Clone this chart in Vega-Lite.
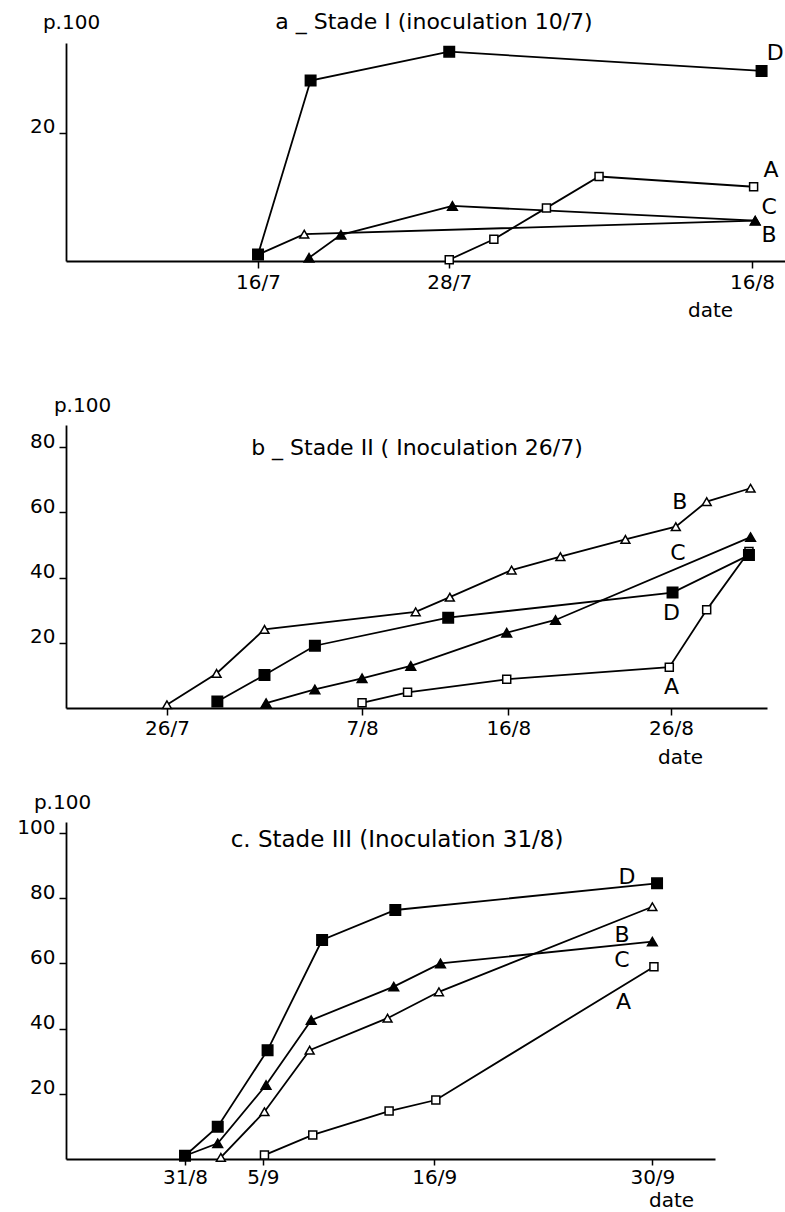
{
  "$schema": "https://vega.github.io/schema/vega-lite/v6.json",
  "padding": {"left": 16, "top": 11, "right": 0, "bottom": 2},
  "background": "white",
  "bounds": "flush",
  "spacing": 164,
  "datasets": {
    "a": [
      {"s": "A", "day": 28, "v": 0.2},
      {"s": "A", "day": 30.8, "v": 3.4},
      {"s": "A", "day": 34.1, "v": 8.3},
      {"s": "A", "day": 37.4, "v": 13.2},
      {"s": "A", "day": 47.1, "v": 11.6},
      {"s": "B", "day": 16, "v": 1.0},
      {"s": "B", "day": 18.9, "v": 4.2},
      {"s": "B", "day": 47.2, "v": 6.3},
      {"s": "C", "day": 19.2, "v": 0.5},
      {"s": "C", "day": 21.2, "v": 4.1},
      {"s": "C", "day": 28.2, "v": 8.6},
      {"s": "C", "day": 47.2, "v": 6.3},
      {"s": "D", "day": 16, "v": 1.0},
      {"s": "D", "day": 19.3, "v": 28.2},
      {"s": "D", "day": 28, "v": 32.7},
      {"s": "D", "day": 47.6, "v": 29.7}
    ],
    "b": [
      {"s": "A", "day": 38, "v": 1.6},
      {"s": "A", "day": 40.8, "v": 4.8},
      {"s": "A", "day": 46.9, "v": 8.8},
      {"s": "A", "day": 56.9, "v": 12.5},
      {"s": "A", "day": 59.2, "v": 30.1},
      {"s": "A", "day": 61.8, "v": 48.0},
      {"s": "B", "day": 26, "v": 1.0},
      {"s": "B", "day": 29.05, "v": 10.6},
      {"s": "B", "day": 32, "v": 24.1},
      {"s": "B", "day": 41.3, "v": 29.5},
      {"s": "B", "day": 43.4, "v": 34.0},
      {"s": "B", "day": 47.2, "v": 42.3},
      {"s": "B", "day": 50.2, "v": 46.4},
      {"s": "B", "day": 54.2, "v": 51.7},
      {"s": "B", "day": 57.3, "v": 55.6},
      {"s": "B", "day": 59.2, "v": 63.3},
      {"s": "B", "day": 61.9, "v": 67.4},
      {"s": "C", "day": 32.1, "v": 1.5},
      {"s": "C", "day": 35.1, "v": 5.7},
      {"s": "C", "day": 38, "v": 9.1},
      {"s": "C", "day": 41, "v": 12.9},
      {"s": "C", "day": 46.9, "v": 23.1},
      {"s": "C", "day": 49.9, "v": 27.0},
      {"s": "C", "day": 61.9, "v": 52.4},
      {"s": "D", "day": 29.1, "v": 2.0},
      {"s": "D", "day": 32, "v": 10.1},
      {"s": "D", "day": 35.1, "v": 19.1},
      {"s": "D", "day": 43.3, "v": 27.7},
      {"s": "D", "day": 57.1, "v": 35.4},
      {"s": "D", "day": 61.8, "v": 46.9}
    ],
    "c": [
      {"s": "A", "day": 5.1, "v": 1.2},
      {"s": "A", "day": 8.2, "v": 7.4},
      {"s": "A", "day": 13.1, "v": 14.7},
      {"s": "A", "day": 16.1, "v": 18.1},
      {"s": "A", "day": 30.1, "v": 59.0},
      {"s": "B", "day": 2.3, "v": 0.5},
      {"s": "B", "day": 5.1, "v": 14.5},
      {"s": "B", "day": 8.0, "v": 33.4},
      {"s": "B", "day": 13.0, "v": 43.2},
      {"s": "B", "day": 16.3, "v": 51.3},
      {"s": "B", "day": 30, "v": 77.4},
      {"s": "C", "day": 0, "v": 1.0},
      {"s": "C", "day": 2.1, "v": 4.8},
      {"s": "C", "day": 5.2, "v": 22.7},
      {"s": "C", "day": 8.1, "v": 42.6},
      {"s": "C", "day": 13.4, "v": 52.9},
      {"s": "C", "day": 16.4, "v": 60.0},
      {"s": "C", "day": 30, "v": 66.7},
      {"s": "D", "day": 0, "v": 1.0},
      {"s": "D", "day": 2.1, "v": 9.9},
      {"s": "D", "day": 5.3, "v": 33.4},
      {"s": "D", "day": 8.8, "v": 67.2},
      {"s": "D", "day": 13.5, "v": 76.4},
      {"s": "D", "day": 30.3, "v": 84.6}
    ],
    "la": [
      {"s": "D", "day": 48.45, "v": 32.5},
      {"s": "A", "day": 48.19, "v": 14.2},
      {"s": "C", "day": 48.07, "v": 8.4},
      {"s": "B", "day": 48.07, "v": 4.1}
    ],
    "lb": [
      {"s": "B", "day": 57.55, "v": 63.3},
      {"s": "C", "day": 57.43, "v": 47.5},
      {"s": "D", "day": 57.04, "v": 29.1},
      {"s": "A", "day": 57.04, "v": 6.5}
    ],
    "lc": [
      {"s": "D", "day": 28.37, "v": 86.6},
      {"s": "B", "day": 28.05, "v": 68.7},
      {"s": "C", "day": 28.05, "v": 61.0},
      {"s": "A", "day": 28.15, "v": 48.3}
    ],
    "ta": [{"t": "a _ Stade I (inoculation 10/7)", "day": 27.04, "v": 37.3}],
    "tb": [{"t": "b _ Stade II ( Inoculation 26/7)", "day": 41.38, "v": 79.8}],
    "tc": [{"t": "c. Stade III (Inoculation 31/8)", "day": 13.61, "v": 97.9}]
  },
  "vconcat": [
    {
      "width": 719,
      "height": 218,
      "layer": [
        {
          "data": {"name": "a"},
          "mark": {"type": "line", "color": "black", "strokeWidth": 1.8},
          "encoding": {
            "x": {"field": "day", "type": "quantitative", "scale": {"domain": [3.95, 49.07], "nice": false, "zero": false},
              "axis": {"values": [16, 28, 47], "labelExpr": "datum.value == 16 ? '16/7' : datum.value == 28 ? '28/7' : '16/8'",
                "title": "date", "titleX": 644, "titleY": 49, "titleAlign": "center", "titleBaseline": "middle",
                "tickSize": 7, "labelPadding": 4, "labelBaseline": "top"}},
            "y": {"field": "v", "type": "quantitative", "scale": {"domain": [0, 34.06], "nice": false},
              "axis": {"values": [20], "title": "p.100", "titleAngle": 0, "titleX": 5, "titleY": -21, "titleAlign": "center", "titleBaseline": "middle",
                "tickSize": 7, "labelPadding": 4, "labelBaseline": "alphabetic"}},
            "detail": {"field": "s"}
          }
        },
        {
          "data": {"name": "a"},
          "mark": {"type": "point", "filled": true, "stroke": "black", "strokeWidth": 1.5, "opacity": 1},
          "encoding": {
            "x": {"field": "day", "type": "quantitative"},
            "y": {"field": "v", "type": "quantitative"},
            "shape": {"field": "s", "scale": {"domain": ["A", "B", "C", "D"], "range": ["square", "triangle-up", "triangle-up", "square"]}, "legend": null},
            "fill": {"field": "s", "scale": {"domain": ["A", "B", "C", "D"], "range": ["white", "white", "black", "black"]}, "legend": null},
            "size": {"field": "s", "scale": {"domain": ["A", "B", "C", "D"], "range": [64, 110, 110, 72]}, "legend": null}
          }
        },
        {
          "data": {"name": "la"},
          "mark": {"type": "text", "fontSize": 22, "align": "center", "baseline": "middle", "color": "black"},
          "encoding": {
            "x": {"field": "day", "type": "quantitative"},
            "y": {"field": "v", "type": "quantitative"},
            "text": {"field": "s"}
          }
        },
        {
          "data": {"name": "ta"},
          "mark": {"type": "text", "fontSize": 22, "align": "center", "baseline": "middle", "color": "black"},
          "encoding": {
            "x": {"field": "day", "type": "quantitative"},
            "y": {"field": "v", "type": "quantitative"},
            "text": {"field": "t"}
          }
        }
      ]
    },
    {
      "bounds": "flush",
      "spacing": 114,
      "vconcat": [
        {
          "width": 701,
          "height": 283,
          "layer": [
            {
              "data": {"name": "b"},
              "mark": {"type": "line", "color": "black", "strokeWidth": 1.8},
              "encoding": {
                "x": {"field": "day", "type": "quantitative", "scale": {"domain": [19.79, 62.91], "nice": false, "zero": false},
                  "axis": {"values": [26, 38, 47, 57], "labelExpr": "datum.value == 26 ? '26/7' : datum.value == 38 ? '7/8' : datum.value == 47 ? '16/8' : '26/8'",
                    "title": "date", "titleX": 614, "titleY": 49, "titleAlign": "center", "titleBaseline": "middle",
                    "tickSize": 7, "labelPadding": 3, "labelBaseline": "top"}},
                "y": {"field": "v", "type": "quantitative", "scale": {"domain": [0, 86.8], "nice": false},
                  "axis": {"values": [20, 40, 60, 80], "title": "p.100", "titleAngle": 0, "titleX": 16, "titleY": -20, "titleAlign": "center", "titleBaseline": "middle",
                    "tickSize": 7, "labelPadding": 4, "labelBaseline": "alphabetic"}},
                "detail": {"field": "s"}
              }
            },
            {
              "data": {"name": "b"},
              "mark": {"type": "point", "filled": true, "stroke": "black", "strokeWidth": 1.5, "opacity": 1},
              "encoding": {
                "x": {"field": "day", "type": "quantitative"},
                "y": {"field": "v", "type": "quantitative"},
                "shape": {"field": "s", "scale": {"domain": ["A", "B", "C", "D"], "range": ["square", "triangle-up", "triangle-up", "square"]}, "legend": null},
                "fill": {"field": "s", "scale": {"domain": ["A", "B", "C", "D"], "range": ["white", "white", "black", "black"]}, "legend": null},
                "size": {"field": "s", "scale": {"domain": ["A", "B", "C", "D"], "range": [64, 110, 110, 72]}, "legend": null}
              }
            },
            {
              "data": {"name": "lb"},
              "mark": {"type": "text", "fontSize": 22, "align": "center", "baseline": "middle", "color": "black"},
              "encoding": {
                "x": {"field": "day", "type": "quantitative"},
                "y": {"field": "v", "type": "quantitative"},
                "text": {"field": "s"}
              }
            },
            {
              "data": {"name": "tb"},
              "mark": {"type": "text", "fontSize": 22, "align": "center", "baseline": "middle", "color": "black"},
              "encoding": {
                "x": {"field": "day", "type": "quantitative"},
                "y": {"field": "v", "type": "quantitative"},
                "text": {"field": "t"}
              }
            }
          ]
        },
        {
          "width": 649,
          "height": 337,
          "layer": [
            {
              "data": {"name": "c"},
              "mark": {"type": "line", "color": "black", "strokeWidth": 1.8},
              "encoding": {
                "x": {"field": "day", "type": "quantitative", "scale": {"domain": [-7.64, 34.02], "nice": false, "zero": false},
                  "axis": {"values": [0, 5, 16, 30], "labelExpr": "datum.value == 0 ? '31/8' : datum.value == 5 ? '5/9' : datum.value == 16 ? '16/9' : '30/9'",
                    "title": "date", "titleX": 605, "titleY": 41, "titleAlign": "center", "titleBaseline": "middle",
                    "tickSize": 6, "labelPadding": 2, "labelBaseline": "top"}},
                "y": {"field": "v", "type": "quantitative", "scale": {"domain": [0, 103.4], "nice": false},
                  "axis": {"values": [20, 40, 60, 80, 100], "title": "p.100", "titleAngle": 0, "titleX": -4, "titleY": -20, "titleAlign": "center", "titleBaseline": "middle",
                    "tickSize": 7, "labelPadding": 4, "labelBaseline": "alphabetic"}},
                "detail": {"field": "s"}
              }
            },
            {
              "data": {"name": "c"},
              "mark": {"type": "point", "filled": true, "stroke": "black", "strokeWidth": 1.5, "opacity": 1},
              "encoding": {
                "x": {"field": "day", "type": "quantitative"},
                "y": {"field": "v", "type": "quantitative"},
                "shape": {"field": "s", "scale": {"domain": ["A", "B", "C", "D"], "range": ["square", "triangle-up", "triangle-up", "square"]}, "legend": null},
                "fill": {"field": "s", "scale": {"domain": ["A", "B", "C", "D"], "range": ["white", "white", "black", "black"]}, "legend": null},
                "size": {"field": "s", "scale": {"domain": ["A", "B", "C", "D"], "range": [64, 110, 110, 72]}, "legend": null}
              }
            },
            {
              "data": {"name": "lc"},
              "mark": {"type": "text", "fontSize": 22, "align": "center", "baseline": "middle", "color": "black"},
              "encoding": {
                "x": {"field": "day", "type": "quantitative"},
                "y": {"field": "v", "type": "quantitative"},
                "text": {"field": "s"}
              }
            },
            {
              "data": {"name": "tc"},
              "mark": {"type": "text", "fontSize": 23, "align": "center", "baseline": "middle", "color": "black"},
              "encoding": {
                "x": {"field": "day", "type": "quantitative"},
                "y": {"field": "v", "type": "quantitative"},
                "text": {"field": "t"}
              }
            }
          ]
        }
      ]
    }
  ],
  "config": {
    "font": "DejaVu Sans",
    "view": {"stroke": null},
    "text": {"font": "DejaVu Sans"},
    "axis": {
      "domainColor": "black", "domainWidth": 1.8, "tickColor": "black", "tickWidth": 1.5,
      "labelColor": "black", "labelFont": "DejaVu Sans", "labelFontSize": 20, "grid": false,
      "titleFont": "DejaVu Sans", "titleFontSize": 20, "titleFontWeight": "normal", "titleColor": "black",
      "labelFlush": false, "labelOverlap": false
    }
  }
}
